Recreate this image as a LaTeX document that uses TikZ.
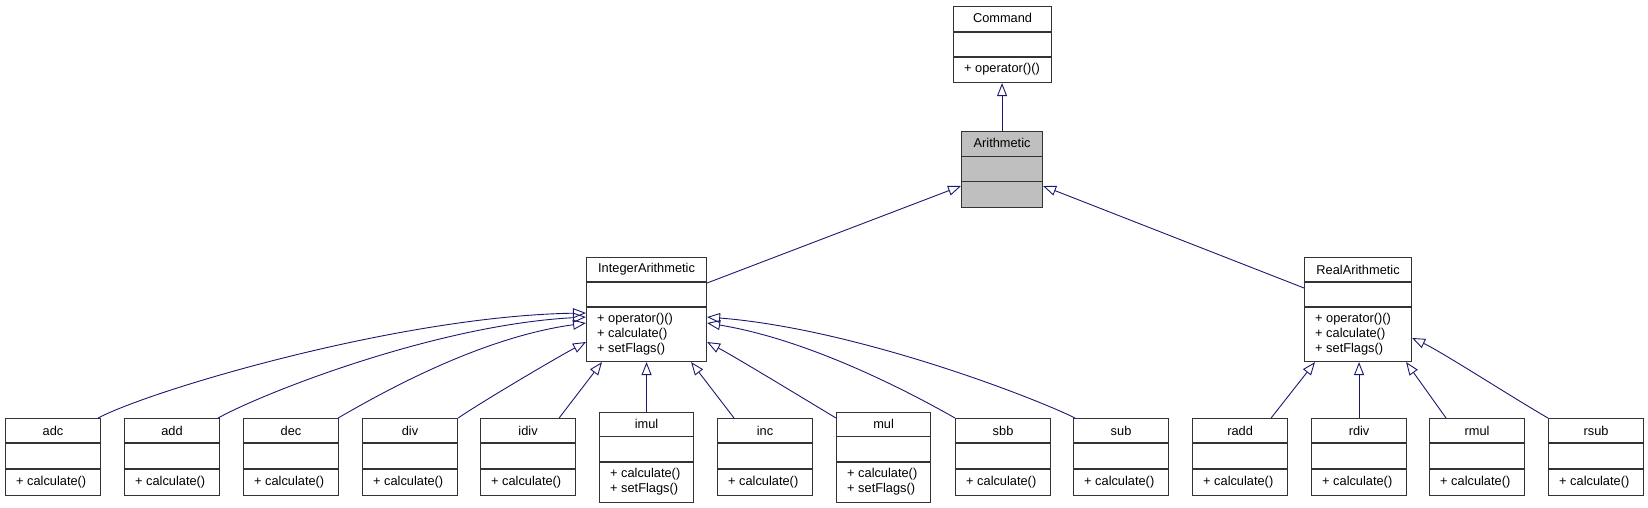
\documentclass[tikz,border=0pt]{standalone}
\usepackage{fontspec}
\setmainfont{Liberation Sans}
\usepackage{tikz}
\usetikzlibrary{arrows.meta}
\definecolor{navyline}{RGB}{25,25,112}
\definecolor{basegray}{RGB}{191,191,191}
\newcommand{\classfont}{\fontsize{12.8}{15}\selectfont}

\begin{document}
\begin{tikzpicture}[x=1pt,y=-1pt,
  classbox/.style={draw=black!80,line width=1.1pt,fill=white,inner sep=0pt,anchor=north west},
  classline/.style={draw=black!80,line width=1.1pt},
  classname/.style={inner sep=0pt,font=\classfont},
  classops/.style={inner sep=0pt,anchor=west,align=left,font=\classfont},
  inherit/.style={draw=navyline,line width=0.9pt,-{Triangle[open,length=13pt,width=10pt]}}]
\useasboundingbox (0,0) rectangle (1648,508);

% Command (top)
\node[classbox,minimum width=98pt,minimum height=76pt] (cmd) at (953,6) {};
\node[classname] (cmd-name) at ([yshift=-12pt]cmd.north) {Command};
\draw[classline] ([yshift=-26pt]cmd.north west) -- ([yshift=-26pt]cmd.north east);
\draw[classline] ([yshift=-51pt]cmd.north west) -- ([yshift=-51pt]cmd.north east);
\node[classops] (cmd-ops) at ([xshift=11pt,yshift=-63.5pt]cmd.north west) {+ operator()()};

% Arithmetic (highlighted)
\node[classbox,fill=basegray,minimum width=81pt,minimum height=76pt] (arith) at (961,131) {};
\node[classname] (arith-name) at ([yshift=-12pt]arith.north) {Arithmetic};
\draw[classline] ([yshift=-25.5pt]arith.north west) -- ([yshift=-25.5pt]arith.north east);
\draw[classline] ([yshift=-50.5pt]arith.north west) -- ([yshift=-50.5pt]arith.north east);

% IntegerArithmetic
\node[classbox,minimum width=120pt,minimum height=104pt] (ia) at (586,257) {};
\node[classname] (ia-name) at ([yshift=-12.5pt]ia.north) {IntegerArithmetic};
\draw[classline] ([yshift=-25pt]ia.north west) -- ([yshift=-25pt]ia.north east);
\draw[classline] ([yshift=-50pt]ia.north west) -- ([yshift=-50pt]ia.north east);
\node[classops] (ia-ops) at ([xshift=11pt,yshift=-77pt]ia.north west) {+ operator()()\\+ calculate()\\+ setFlags()};

% RealArithmetic
\node[classbox,minimum width=107pt,minimum height=104pt] (ra) at (1304,257) {};
\node[classname] (ra-name) at ([yshift=-12.5pt]ra.north) {RealArithmetic};
\draw[classline] ([yshift=-25pt]ra.north west) -- ([yshift=-25pt]ra.north east);
\draw[classline] ([yshift=-50pt]ra.north west) -- ([yshift=-50pt]ra.north east);
\node[classops] (ra-ops) at ([xshift=11pt,yshift=-77pt]ra.north west) {+ operator()()\\+ calculate()\\+ setFlags()};

% Leaf classes with one operation
\foreach \cname/\cx in {adc/5,add/124,dec/243,div/362,idiv/480,inc/717,sbb/955,sub/1073,radd/1192,rdiv/1311,rmul/1429,rsub/1548}{
  \node[classbox,minimum width=95pt,minimum height=77pt] (\cname) at (\cx,418) {};
  \node[classname] (\cname-name) at ([yshift=-12.5pt]\cname.north) {\cname};
  \draw[classline] ([yshift=-25pt]\cname.north west) -- ([yshift=-25pt]\cname.north east);
  \draw[classline] ([yshift=-51pt]\cname.north west) -- ([yshift=-51pt]\cname.north east);
  \node[classops] (\cname-ops) at ([xshift=11pt,yshift=-64pt]\cname.north west) {+ calculate()};
}

% Leaf classes with two operations
\foreach \cname/\cx in {imul/599,mul/836}{
  \node[classbox,minimum width=94pt,minimum height=90pt] (\cname) at (\cx,412) {};
  \node[classname] (\cname-name) at ([yshift=-12pt]\cname.north) {\cname};
  \draw[classline] ([yshift=-24.5pt]\cname.north west) -- ([yshift=-24.5pt]\cname.north east);
  \draw[classline] ([yshift=-50pt]\cname.north west) -- ([yshift=-50pt]\cname.north east);
  \node[classops] (\cname-ops) at ([xshift=11pt,yshift=-70pt]\cname.north west) {+ calculate()\\+ setFlags()};
}

% Inheritance: upper levels
\draw[inherit] (arith.north) -- (arith.north |- cmd.south);
\draw[inherit] ([yshift=-26pt]ia.north east) -- ([yshift=-55pt]arith.north west);
\draw[inherit] ([yshift=-31pt]ra.north west) -- ([yshift=-55pt]arith.north east);

% Inheritance: integer operations
\draw[inherit] ([xshift=-3pt]adc.north east) .. controls +(53,-28) and +(-186,3) .. ([yshift=-56pt]ia.north west);
\draw[inherit] ([xshift=-2pt]add.north east) .. controls +(45,-25) and +(-150,8) .. ([yshift=-60pt]ia.north west);
\draw[inherit] ([xshift=-1pt]dec.north east) .. controls +(35,-20) and +(-110,15) .. ([yshift=-66pt]ia.north west);
\draw[inherit] (div.north east) .. controls +(25,-17) and +(-30,16) .. ([yshift=-85pt]ia.north west);
\draw[inherit] ([xshift=-17pt]idiv.north east) -- ([xshift=16pt]ia.south west);
\draw[inherit] (imul.north) -- (imul.north |- ia.south);
\draw[inherit] ([xshift=17pt]inc.north west) -- ([xshift=-16pt]ia.south east);
\draw[inherit] ([yshift=-6pt]mul.north west) .. controls +(-25,-15) and +(30,16) .. ([yshift=-85pt]ia.north east);
\draw[inherit] (sbb.north west) .. controls +(-30,-17) and +(110,18) .. ([yshift=-66pt]ia.north east);
\draw[inherit] ([xshift=2pt]sub.north west) .. controls +(-40,-20) and +(150,12) .. ([yshift=-60pt]ia.north east);

% Inheritance: real operations
\draw[inherit] ([xshift=-17pt]radd.north east) -- ([xshift=11pt]ra.south west);
\draw[inherit] (rdiv.north) -- (rdiv.north |- ra.south);
\draw[inherit] ([xshift=17pt]rmul.north west) -- ([xshift=-6pt]ra.south east);
\draw[inherit] (rsub.north west) .. controls +(-30,-17) and +(30,14) .. ([yshift=-81pt]ra.north east);
\end{tikzpicture}
\end{document}
